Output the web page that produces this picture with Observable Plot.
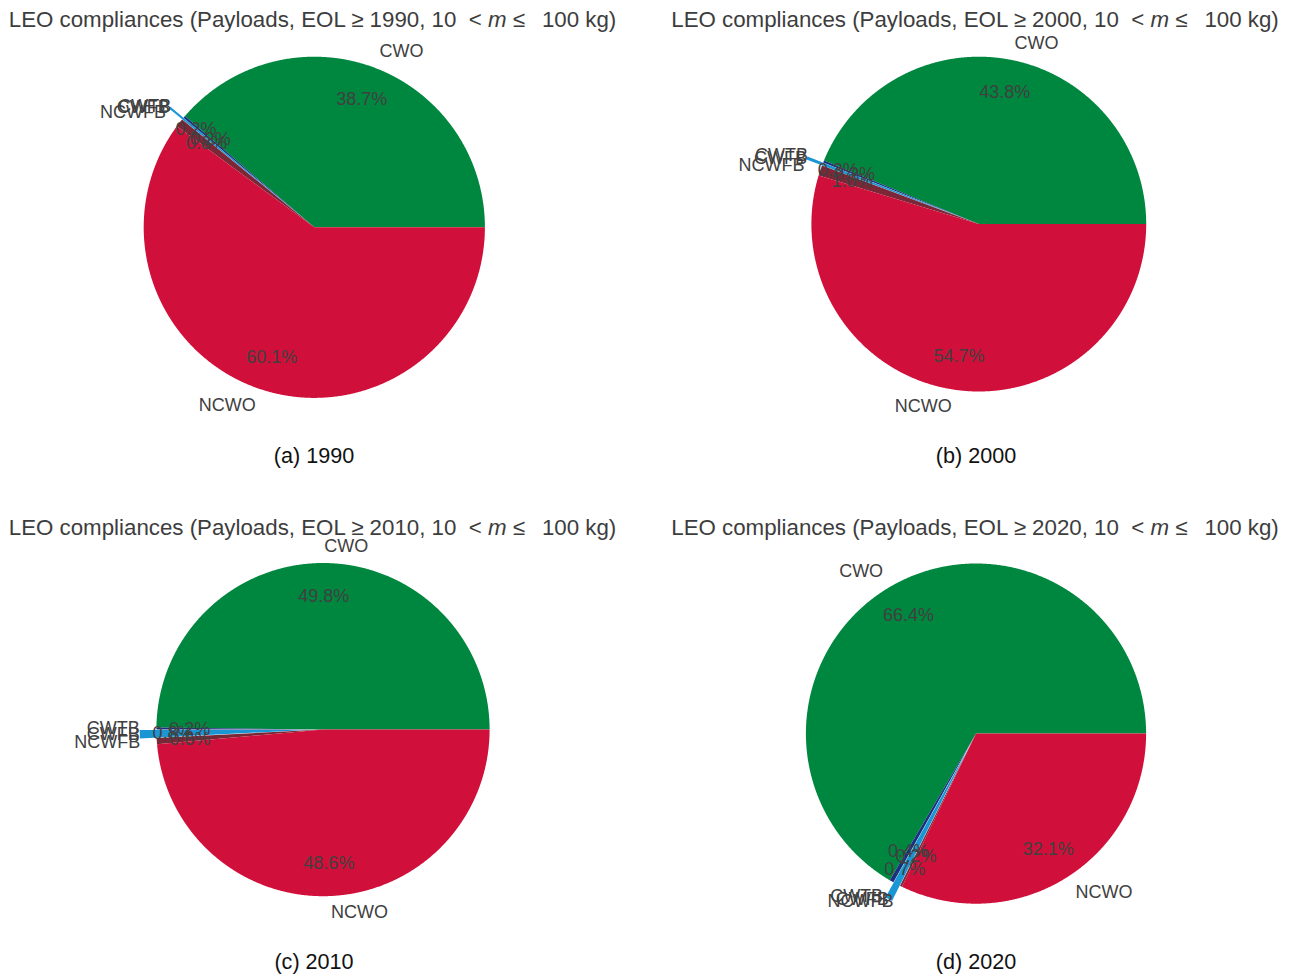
<!DOCTYPE html>
<html><head><meta charset="utf-8">
<script src="https://cdn.jsdelivr.net/npm/d3@7"></script>
<script src="https://cdn.jsdelivr.net/npm/@observablehq/plot@0.6"></script>
<style>
body{margin:0;background:#fff;font-family:"Liberation Sans",Arial,sans-serif;}
#root{position:relative;width:1298px;height:978px;overflow:hidden;background:#fff;}
.title{position:absolute;font-size:22.3px;color:#3d3d3d;white-space:pre;transform:translate(-50%,-50%);line-height:1;}
.caption{position:absolute;font-size:21.6px;color:#111;white-space:pre;transform:translate(-50%,-50%);line-height:1;}
.panel{position:absolute;}
</style></head><body><div id="root"></div>
<script>
// ---- data ----
const categories = ["CWO", "CWTB", "CWFB", "NCWFB", "NCWO"];
const sliceColors = ["#00873f", "#1b2f80", "#1a96d4", "#7a2837", "#d0103a"];
const explode = [0, 0, 0.1, 0, 0];
const years = [1990, 2000, 2010, 2020];
const panelTags = ["(a)", "(b)", "(c)", "(d)"];
const share1990 = [38.7, 0.2, 0.2, 0.8, 60.1];
const share2000 = [43.8, 0.2, 0.3, 1.0, 54.7];
const share2010 = [49.8, 0.2, 0.8, 0.6, 48.6];
const share2020 = [66.4, 0.4, 0.7, 0.2, 32.1];
const shares = [share1990, share2000, share2010, share2020];

// ---- layout (page pixels) ----
const layout = [
  {left: 0,   top: 34,  w: 649, h: 404, cx: 313.8, cy: 226.8, r: 170.6, tx: 312.5, ty: 20,  capx: 314, capy: 456},
  {left: 649, top: 34,  w: 649, h: 404, cx: 978.3, cy: 223.6, r: 167.4, tx: 975,   ty: 20,  capx: 976, capy: 456},
  {left: 0,   top: 534, w: 649, h: 410, cx: 322.5, cy: 729.1, r: 166.6, tx: 312.5, ty: 528, capx: 314, capy: 962},
  {left: 649, top: 534, w: 649, h: 410, cx: 975.5, cy: 733.1, r: 170.1, tx: 975,   ty: 528, capx: 976, capy: 962}
];

function slices(values) {
  const total = d3.sum(values);
  let acc = 0;
  return values.map((v, i) => {
    const a0 = acc / total * 2 * Math.PI; acc += v;
    const a1 = acc / total * 2 * Math.PI;
    const am = (a0 + a1) / 2, e = explode[i];
    return {cat: categories[i], value: v, a0, a1, am, e, ox: e * Math.cos(am), oy: e * Math.sin(am)};
  });
}
function wedgePoints(s) {
  const pts = [{cat: s.cat, x: s.ox, y: s.oy}];
  const n = Math.max(2, Math.ceil((s.a1 - s.a0) / (Math.PI / 720)));
  for (let k = 0; k <= n; k++) {
    const t = s.a0 + (s.a1 - s.a0) * k / n;
    pts.push({cat: s.cat, x: s.ox + Math.cos(t), y: s.oy + Math.sin(t)});
  }
  return pts;
}

const root = document.getElementById("root");
const font = "Liberation Sans, Arial, sans-serif";

shares.forEach((vals, p) => {
  const L = layout[p];
  const S = slices(vals);
  const pts = S.flatMap(wedgePoints);
  const names = S.map(s => ({cat: s.cat, x: 1.1 * Math.cos(s.am), y: 1.1 * Math.sin(s.am)}));
  const pcts = S.map(s => ({cat: s.cat, x: (s.e + 0.8) * Math.cos(s.am), y: (s.e + 0.8) * Math.sin(s.am), label: s.value.toFixed(1) + "%"}));
  const lcx = L.cx - L.left, lcy = L.cy - L.top;
  const chart = Plot.plot({
    width: L.w, height: L.h,
    marginTop: 0, marginRight: 0, marginBottom: 0, marginLeft: 0,
    style: {background: "transparent", overflow: "visible", fontFamily: font},
    x: {domain: [-lcx / L.r, (L.w - lcx) / L.r], range: [0, L.w], axis: null},
    y: {domain: [-(L.h - lcy) / L.r, lcy / L.r], range: [L.h, 0], axis: null},
    color: {domain: categories, range: sliceColors},
    marks: [
      Plot.line(pts, {x: "x", y: "y", z: "cat", fill: "cat", stroke: "none", curve: "linear-closed"}),
      Plot.text(names.filter(d => d.x > 0), {x: "x", y: "y", text: "cat", textAnchor: "start", fontSize: 18, fill: "#404040", fontFamily: font}),
      Plot.text(names.filter(d => d.x <= 0), {x: "x", y: "y", text: "cat", textAnchor: "end", fontSize: 18, fill: "#404040", fontFamily: font}),
      Plot.text(pcts, {x: "x", y: "y", text: "label", textAnchor: "middle", fontSize: 18, fill: "#404040", fontFamily: font})
    ]
  });
  const holder = document.createElement("div");
  holder.className = "panel";
  holder.style.left = L.left + "px"; holder.style.top = L.top + "px";
  holder.appendChild(chart);
  root.appendChild(holder);

  const t = document.createElement("div");
  t.className = "title";
  t.style.left = L.tx + "px"; t.style.top = L.ty + "px";
  t.innerHTML = "LEO compliances (Payloads, EOL \u2265 " + years[p] + ", 10&nbsp;&nbsp;&lt; <i>m</i> \u2264&nbsp;&nbsp;\u2009100 kg)";
  root.appendChild(t);

  const c = document.createElement("div");
  c.className = "caption";
  c.style.left = L.capx + "px"; c.style.top = L.capy + "px";
  c.textContent = panelTags[p] + " " + years[p];
  root.appendChild(c);
});
</script>
</body></html>
